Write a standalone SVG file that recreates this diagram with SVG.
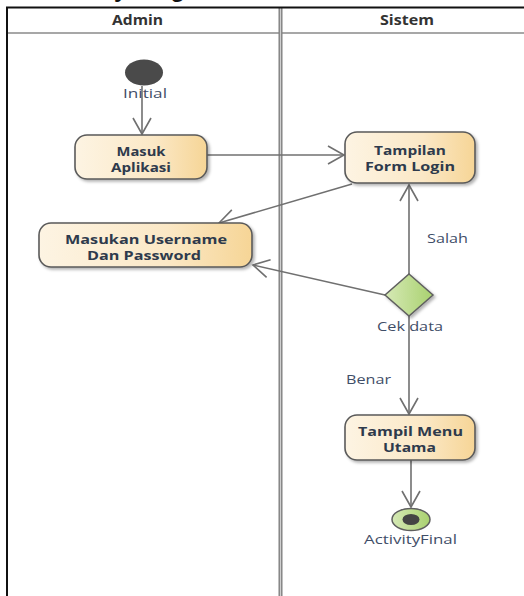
<svg xmlns="http://www.w3.org/2000/svg" width="524" height="596" viewBox="0 0 524 596">
<defs>
<linearGradient id="nodeGrad" x1="0" y1="0" x2="1" y2="0">
<stop offset="0" stop-color="#fdf4e3"/>
<stop offset="0.6" stop-color="#fbe8c6"/>
<stop offset="1" stop-color="#f6d596"/>
</linearGradient>
<linearGradient id="greenGrad" x1="0" y1="0" x2="1" y2="0">
<stop offset="0" stop-color="#d6e9b6"/>
<stop offset="1" stop-color="#a9d16f"/>
</linearGradient>
<filter id="shadow" x="-10%" y="-10%" width="130%" height="140%">
<feDropShadow dx="2" dy="2" stdDeviation="1.5" flood-color="#000" flood-opacity="0.3"/>
</filter>
<marker id="open" markerUnits="userSpaceOnUse" markerWidth="20" markerHeight="20" viewBox="-18 -10 20 20" refX="0" refY="0" orient="auto">
<path d="M -16 -9 L 0 0 L -16 9" fill="none" stroke="#707070" stroke-width="1.6"/>
</marker>
</defs>
<style>
.node{fill:url(#nodeGrad);stroke:#5a5a5a;stroke-width:1.6;filter:url(#shadow)}
.nt{font-family:"Open Sans","Noto Sans",sans-serif;font-weight:bold;font-size:13px;fill:#2e3a4c;text-anchor:middle}
.lbl{font-family:"Open Sans","Noto Sans",sans-serif;font-size:13px;fill:#3f4e68;text-anchor:middle}
.hdr{font-family:"Open Sans","Noto Sans",sans-serif;font-weight:bold;font-size:14px;fill:#333;text-anchor:middle}
.edge{fill:none;stroke:#707070;stroke-width:1.6;marker-end:url(#open)}
</style>
<rect width="524" height="596" fill="#fff"/>
<text x="42" y="-3" font-family="Liberation Sans, sans-serif" font-weight="bold" font-size="23.6" fill="#111">Activity Diagram</text>
<g id="frame">
<line x1="7" y1="33" x2="524" y2="33" stroke="#8a8a8a" stroke-width="1.5"/>
<line x1="280.5" y1="7" x2="280.5" y2="596" stroke="#808080" stroke-width="4"/>
<line x1="280.5" y1="7" x2="280.5" y2="596" stroke="#cfcfcf" stroke-width="1.2"/>
<line x1="6" y1="7.5" x2="524" y2="7.5" stroke="#111" stroke-width="2"/>
<line x1="7" y1="7" x2="7" y2="596" stroke="#111" stroke-width="2"/>
<text class="hdr" x="137.5" y="25" textLength="51" lengthAdjust="spacingAndGlyphs">Admin</text>
<text class="hdr" x="407" y="25" textLength="54" lengthAdjust="spacingAndGlyphs">Sistem</text>
</g>
<g id="connectors">
<line class="edge" x1="142" y1="86" x2="142" y2="134"/>
<line class="edge" x1="207" y1="155" x2="344" y2="155"/>
<line class="edge" x1="352" y1="184" x2="219" y2="223"/>
<line class="edge" x1="385" y1="295" x2="253" y2="265"/>
<line class="edge" x1="409" y1="274" x2="409" y2="185"/>
<line class="edge" x1="409" y1="316" x2="409" y2="414"/>
<line class="edge" x1="411" y1="460" x2="411" y2="507"/>
<text class="lbl" x="447.5" y="243" textLength="41" lengthAdjust="spacingAndGlyphs">Salah</text>
<text class="lbl" x="368.5" y="384" textLength="45" lengthAdjust="spacingAndGlyphs">Benar</text>
</g>
<g id="initial">
<ellipse cx="144" cy="72.5" rx="19" ry="13" fill="#4a4a4a"/>
<text class="lbl" x="145" y="98" textLength="44" lengthAdjust="spacingAndGlyphs">Initial</text>
</g>
<g id="masuk-aplikasi">
<rect class="node" x="75" y="135" width="132" height="44" rx="12"/>
<text class="nt" x="141" y="156" textLength="49" lengthAdjust="spacingAndGlyphs">Masuk</text>
<text class="nt" x="141" y="172" textLength="60" lengthAdjust="spacingAndGlyphs">Aplikasi</text>
</g>
<g id="tampilan-form-login">
<rect class="node" x="345" y="132" width="130" height="51" rx="12"/>
<text class="nt" x="410" y="155" textLength="72" lengthAdjust="spacingAndGlyphs">Tampilan</text>
<text class="nt" x="410" y="171" textLength="90" lengthAdjust="spacingAndGlyphs">Form Login</text>
</g>
<g id="masukan-username">
<rect class="node" x="39" y="223" width="213" height="44" rx="12"/>
<text class="nt" x="146" y="244" textLength="162" lengthAdjust="spacingAndGlyphs">Masukan Username</text>
<text class="nt" x="144" y="260" textLength="114" lengthAdjust="spacingAndGlyphs">Dan Password</text>
</g>
<g id="cek-data">
<polygon points="409,274 433,295 409,316 385,295" fill="url(#greenGrad)" stroke="#5f5f5f" stroke-width="1.5" filter="url(#shadow)"/>
<text class="lbl" x="410" y="331" textLength="66" lengthAdjust="spacingAndGlyphs">Cek data</text>
</g>
<g id="tampil-menu-utama">
<rect class="node" x="345" y="415" width="130" height="45" rx="12"/>
<text class="nt" x="410.5" y="436" textLength="105" lengthAdjust="spacingAndGlyphs">Tampil Menu</text>
<text class="nt" x="409.5" y="452" textLength="53" lengthAdjust="spacingAndGlyphs">Utama</text>
</g>
<g id="activity-final">
<ellipse cx="411" cy="519.5" rx="19" ry="11" fill="url(#greenGrad)" stroke="#5f5f5f" stroke-width="1.5"/>
<ellipse cx="411" cy="519.5" rx="8.5" ry="5.5" fill="#444"/>
<text class="lbl" x="410.5" y="544" textLength="93" lengthAdjust="spacingAndGlyphs">ActivityFinal</text>
</g>
</svg>
